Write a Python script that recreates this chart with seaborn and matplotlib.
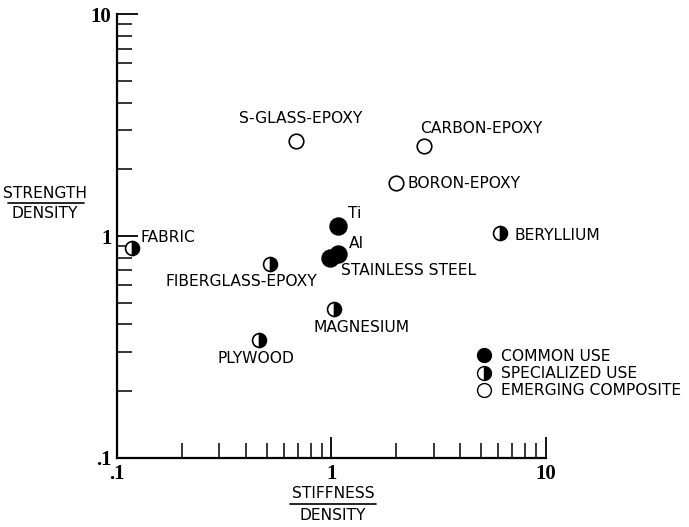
import matplotlib
matplotlib.use('Agg')
import matplotlib.pyplot as plt
from matplotlib.lines import Line2D
import seaborn as sns
import pandas as pd

# Material data (stiffness/density, strength/density).
common_names = ['Ti', 'Al', 'STAINLESS STEEL']
common_stiff = [1.07, 1.07, 0.98]
common_strength = [1.11, 0.83, 0.80]

special_names = ['FABRIC', 'FIBERGLASS-EPOXY', 'MAGNESIUM', 'PLYWOOD', 'BERYLLIUM']
special_stiff = [0.117, 0.515, 1.03, 0.457, 6.1]
special_strength = [0.88, 0.75, 0.47, 0.34, 1.03]

emerging_names = ['S-GLASS-EPOXY', 'CARBON-EPOXY', 'BORON-EPOXY']
emerging_stiff = [0.68, 2.71, 2.0]
emerging_strength = [2.68, 2.54, 1.73]

axis_ticks = [0.1, 1, 10]
axis_ticklabels = ['.1', '1', '10']
legend_labels = ['COMMON USE', 'SPECIALIZED USE', 'EMERGING COMPOSITE']

# Label offsets in pixels (dx, dy, ha) for each material.
label_offsets = {
    'Ti': (10, 13, 'left'),
    'Al': (11, 11, 'left'),
    'STAINLESS STEEL': (11, -13, 'left'),
    'FABRIC': (9, 11, 'left'),
    'FIBERGLASS-EPOXY': (-28, -18, 'center'),
    'MAGNESIUM': (27, -19, 'center'),
    'PLYWOOD': (-3, -18, 'center'),
    'BERYLLIUM': (15, -2, 'left'),
    'S-GLASS-EPOXY': (5, 23, 'center'),
    'CARBON-EPOXY': (-4, 18, 'left'),
    'BORON-EPOXY': (12, 0, 'left'),
}

common_df = pd.DataFrame({'name': common_names, 'stiff': common_stiff, 'strength': common_strength})
special_df = pd.DataFrame({'name': special_names, 'stiff': special_stiff, 'strength': special_strength})
emerging_df = pd.DataFrame({'name': emerging_names, 'stiff': emerging_stiff, 'strength': emerging_strength})

sns.set_style('ticks', {'axes.edgecolor': 'black', 'text.color': 'black',
                        'xtick.color': 'black', 'ytick.color': 'black'})
plt.rcParams['font.family'] = ['DejaVu Sans']

fig = plt.figure(figsize=(6.89, 5.27), dpi=100)
ax = fig.add_axes([0.170, 0.131, 0.622, 0.842])

sns.scatterplot(x='stiff', y='strength', data=common_df, ax=ax,
                color='black', s=150, edgecolor='black', linewidth=1, zorder=3)
sns.scatterplot(x='stiff', y='strength', data=emerging_df, ax=ax,
                facecolor='white', s=110, edgecolor='black', linewidth=1.2, zorder=3)
ax.plot(special_df['stiff'], special_df['strength'], linestyle='none', marker='o',
        markersize=10, fillstyle='right', markerfacecolor='black',
        markerfacecoloralt='white', markeredgecolor='black', markeredgewidth=1.2, zorder=3)

ax.set_xscale('log')
ax.set_yscale('log')
ax.set_xlim(0.1, 10)
ax.set_ylim(0.1, 10)
ax.set_xlabel('')
ax.set_ylabel('')

for df in [common_df, special_df, emerging_df]:
    for _, row in df.iterrows():
        dx, dy, ha = label_offsets[row['name']]
        ax.annotate(row['name'], (row['stiff'], row['strength']), xytext=(dx, dy),
                    textcoords='offset pixels', ha=ha, va='center', fontsize=11.2,
                    color='black')

ax.set_xticks(axis_ticks)
ax.set_xticklabels(axis_ticklabels, family='Liberation Serif', fontsize=15, fontweight='bold')
ax.set_yticks(axis_ticks)
ax.set_yticklabels(axis_ticklabels, family='Liberation Serif', fontsize=15, fontweight='bold')
ax.tick_params(which='major', direction='in', length=15, width=1.3, pad=4)
ax.tick_params(which='minor', direction='in', length=11, width=1.1)
sns.despine(ax=ax)
for side in ['left', 'bottom']:
    ax.spines[side].set_linewidth(1.6)

# Fraction-style axis labels.
fig.text(45 / 689, 1 - 193 / 527, 'STRENGTH', ha='center', va='center', fontsize=11.2)
fig.text(45 / 689, 1 - 214 / 527, 'DENSITY', ha='center', va='center', fontsize=11.2)
fig.add_artist(Line2D([8 / 689, 84 / 689], [1 - 203 / 527, 1 - 203 / 527], color='black', lw=1.2))
fig.text(333 / 689, 1 - 493 / 527, 'STIFFNESS', ha='center', va='center', fontsize=11.2)
fig.text(333 / 689, 1 - 516 / 527, 'DENSITY', ha='center', va='center', fontsize=11.2)
fig.add_artist(Line2D([290 / 689, 376 / 689], [1 - 504 / 527, 1 - 504 / 527], color='black', lw=1.2))

handles = [
    Line2D([], [], linestyle='none', marker='o', markersize=10, color='black'),
    Line2D([], [], linestyle='none', marker='o', markersize=10, fillstyle='right',
           markerfacecolor='black', markerfacecoloralt='white', markeredgecolor='black'),
    Line2D([], [], linestyle='none', marker='o', markersize=10, markerfacecolor='white',
           markeredgecolor='black'),
]
fig.legend(handles, legend_labels, loc='upper left', bbox_to_anchor=(468 / 689, 1 - 341 / 527),
           frameon=False, fontsize=11.2, handlelength=1, handletextpad=0.6,
           labelspacing=0.15, borderpad=0)

fig.savefig('out.png', dpi=100)
